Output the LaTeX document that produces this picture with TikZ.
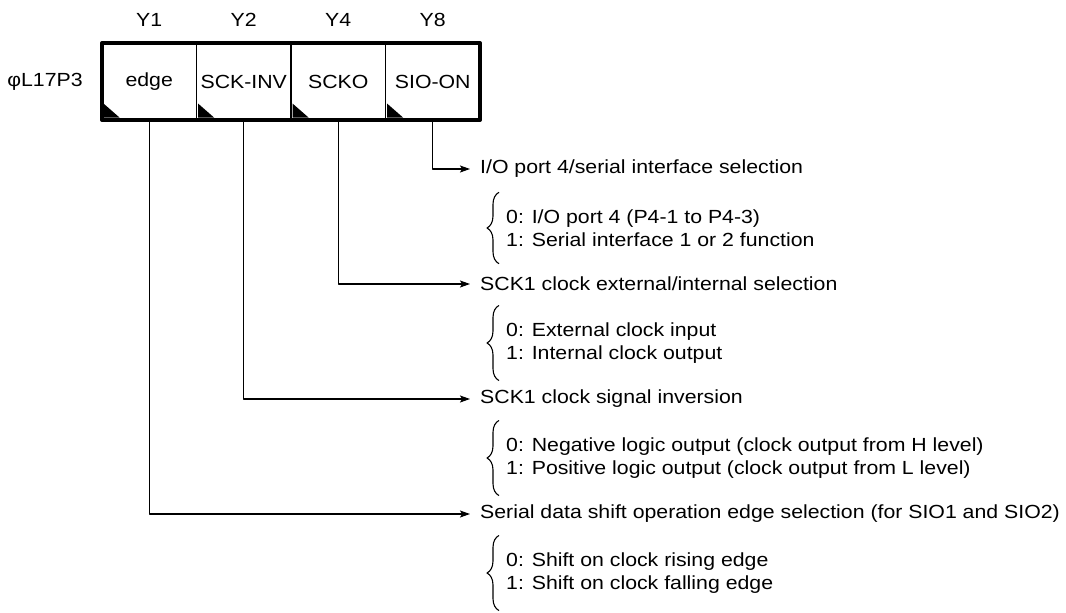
\documentclass[tikz,border=0pt]{standalone}
\usepackage{fontspec}
\setmainfont{Liberation Sans}[FakeStretch=1.12]
\usetikzlibrary{positioning,arrows.meta,decorations.pathreplacing}

\begin{document}
\begin{tikzpicture}[x=1pt, y=-1pt, >={Stealth[length=10pt, width=7pt, inset=2pt]}, line join=round,
    font=\fontsize{19}{24}\selectfont,
    cell/.style={draw, line width=1.2pt, minimum width=94.5pt, minimum height=77pt, inner sep=0pt, outer sep=0pt},
    title/.style={anchor=west, inner xsep=10pt, inner ysep=0pt},
    choice/.style={anchor=west, align=left, inner xsep=7pt, inner ysep=17pt, font=\fontsize{19}{23}\selectfont},
    curly/.style={decorate, decoration={brace, amplitude=12pt}, line width=1.1pt},
    wire/.style={line width=1.2pt}]
    \useasboundingbox (0,0) rectangle (1066,613);
    % register and its bits
    \node[cell] (edge) at (149.25,81.5) {edge};
    \node[cell, right=0pt of edge] (inv) {SCK-INV};
    \node[cell, right=0pt of inv] (scko) {SCKO};
    \node[cell, right=0pt of scko] (sio) {SIO-ON};
    \draw[line width=4pt] (edge.north west) rectangle (sio.south east);
    \node (reg) at (45,81.5) {φL17P3};
    \foreach \id/\bit in {edge/Y1, inv/Y2, scko/Y4, sio/Y8} {
        \node (\bit) at (\id |- 0,20) {\bit};
        \fill ([shift={(1.5,-2.5)}]\id.south west) -- ++(16,0) -- ++(-16,-14) -- cycle;
    }
    % selections
    \foreach \id/\y/\head/\zero/\one in {
        sio/169/{I/O port 4/serial interface selection}/{0: I/O port 4 (P4-1 to P4-3)}/{1: Serial interface 1 or 2 function},
        scko/284/{SCK1 clock external/internal selection}/{0: External clock input}/{1: Internal clock output},
        inv/399/{SCK1 clock signal inversion}/{0: Negative logic output (clock output from H level)}/{1: Positive logic output (clock output from L level)},
        edge/514/{Serial data shift operation edge selection (for SIO1 and SIO2)}/{0: Shift on clock rising edge}/{1: Shift on clock falling edge}%
    } {
        \node[title] (t\id) at (470,\y) {\head};
        \draw[wire, ->] (\id.south) |- (t\id.west);
        \node[choice] (c\id) at (499,\y+59) {\zero\\\one};
        \draw[curly] (c\id.south west) -- (c\id.north west);
    }
\end{tikzpicture}
\end{document}
